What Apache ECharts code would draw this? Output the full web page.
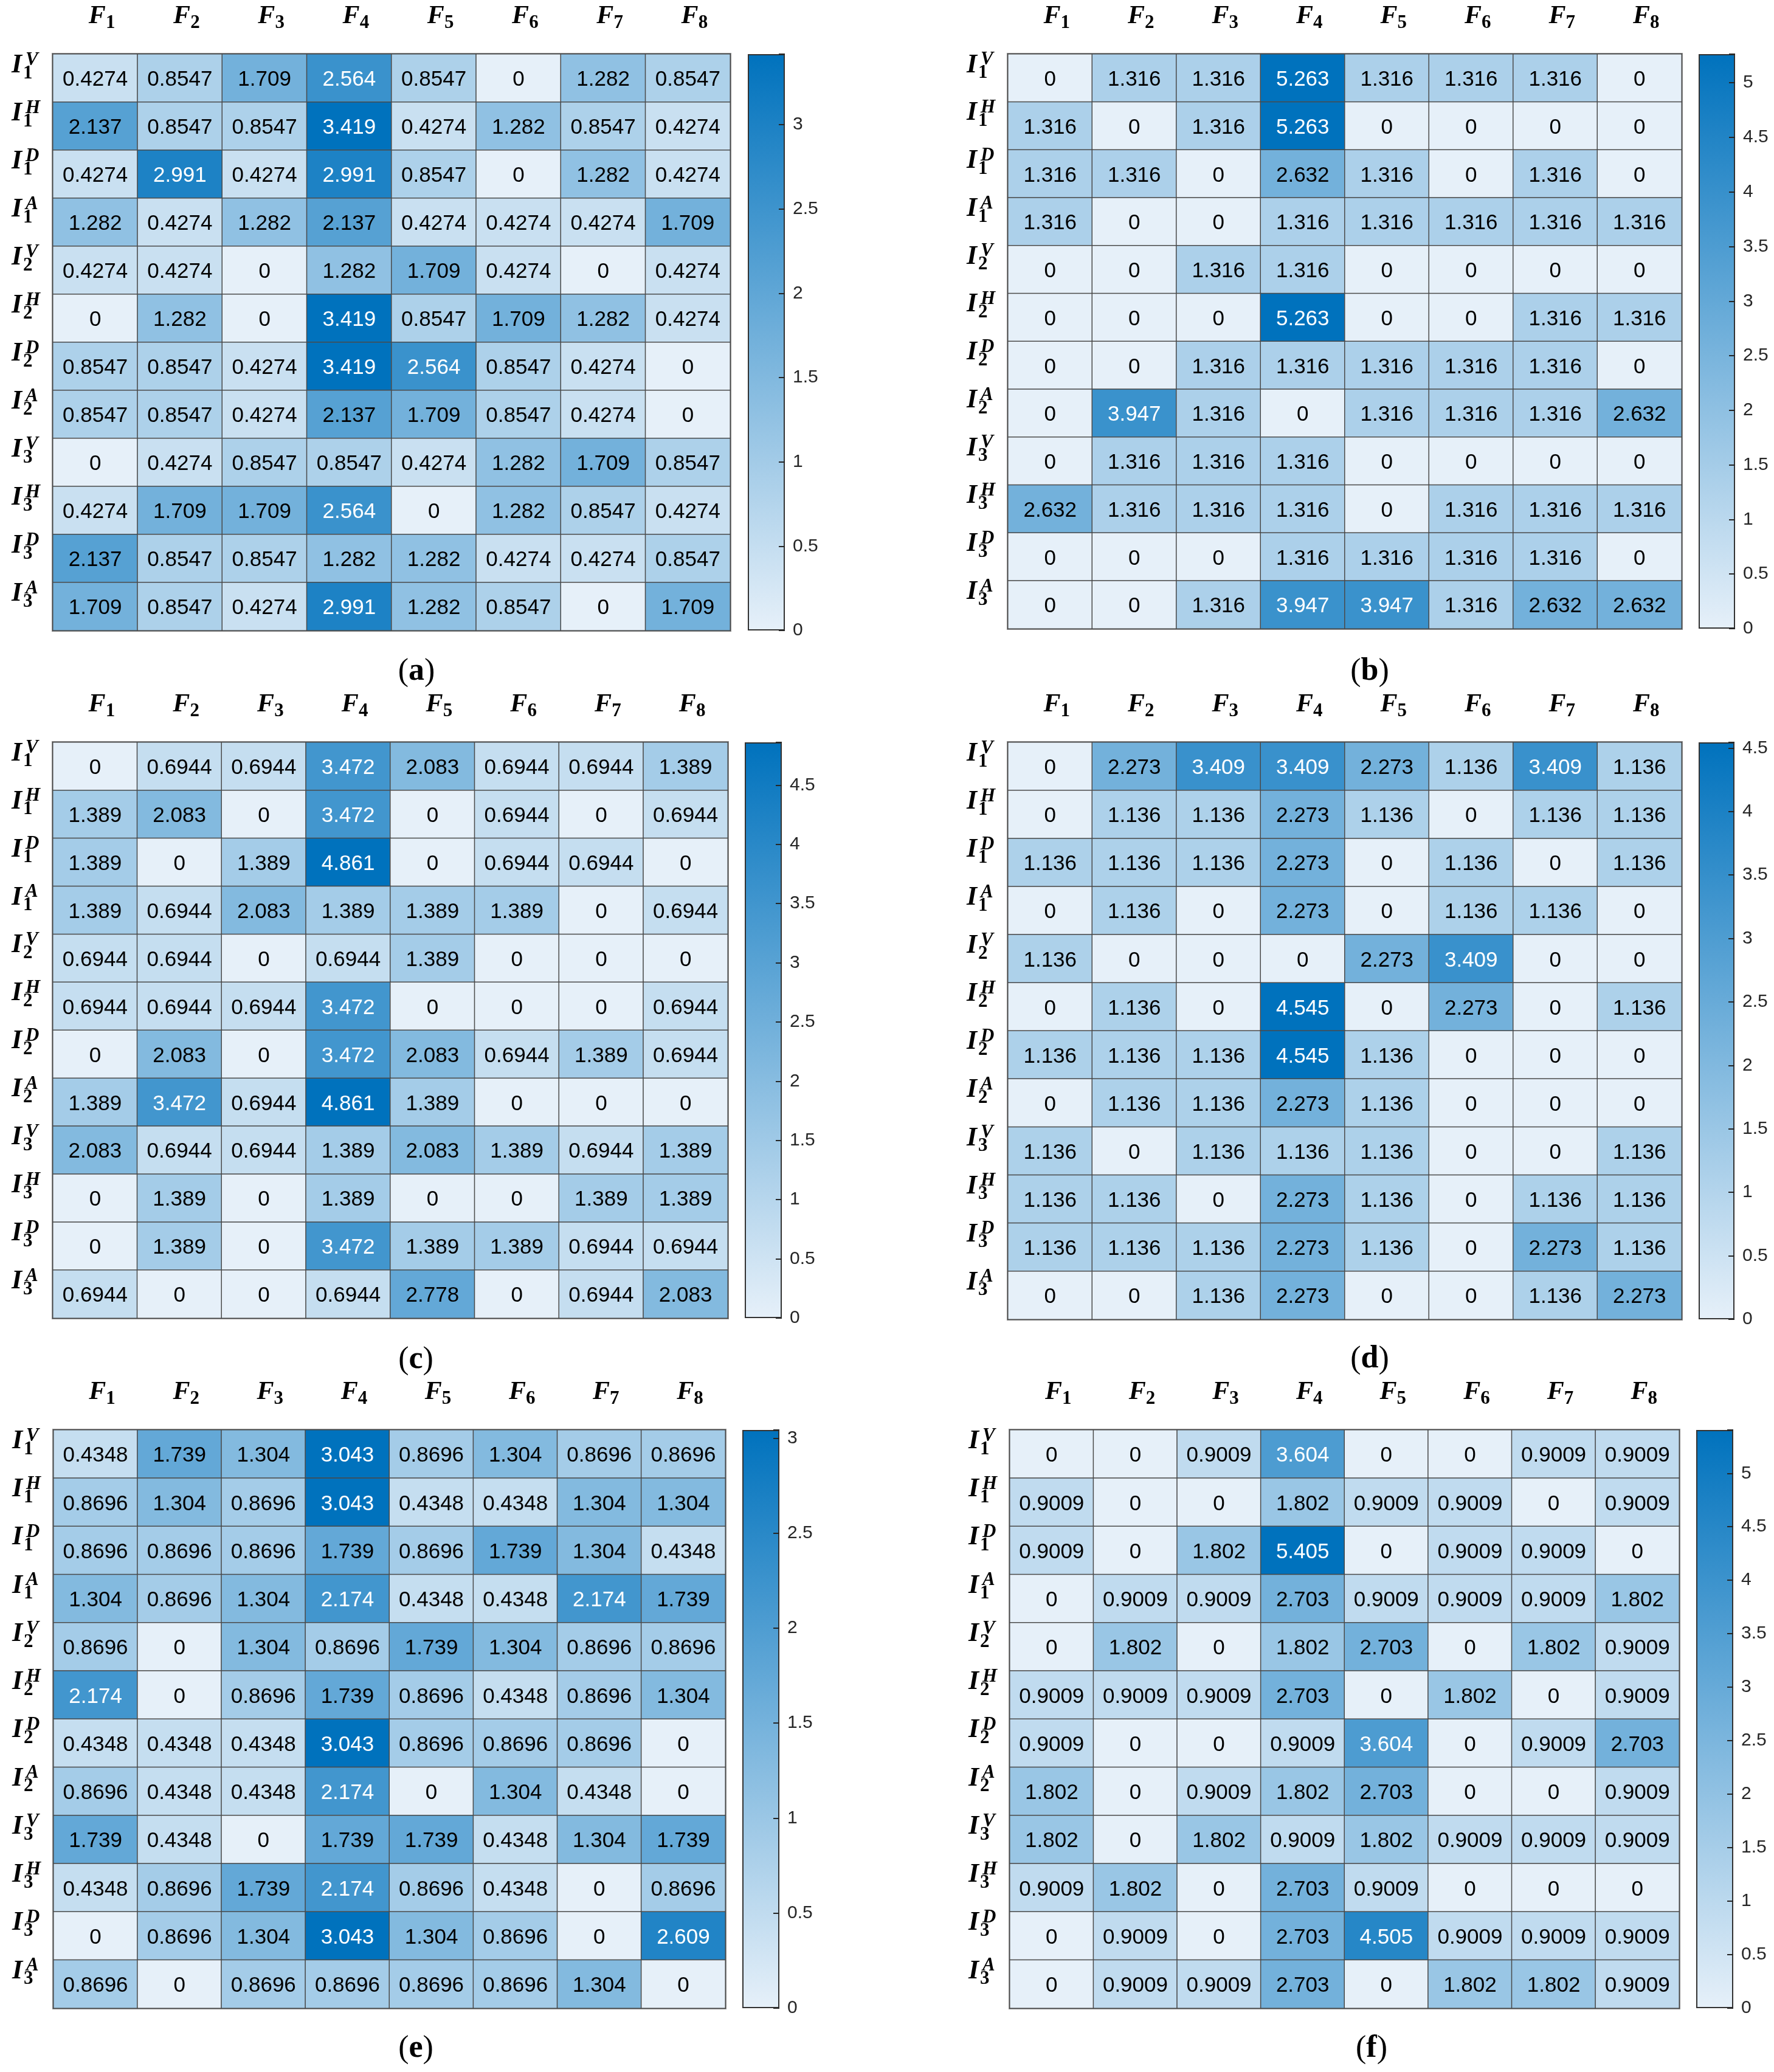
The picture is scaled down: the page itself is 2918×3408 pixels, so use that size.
<!DOCTYPE html>
<html>
<head>
<meta charset="utf-8">
<title>heatmaps a-f</title>
<script src="https://cdn.jsdelivr.net/npm/echarts@6/dist/echarts.min.js"></script>
<style>html,body{margin:0;padding:0;background:#fff;}</style>
</head>
<body>
<div id="main" style="width:2918px;height:3408px;"></div>
<script type="text/javascript">
// column and row names (F_n, I_n^X)
var colNames = ['F1', 'F2', 'F3', 'F4', 'F5', 'F6', 'F7', 'F8'];
var rowNames = ['I1V', 'I1H', 'I1D', 'I1A', 'I2V', 'I2H', 'I2D', 'I2A', 'I3V', 'I3H', 'I3D', 'I3A'];
var panelTags = ['a', 'b', 'c', 'd', 'e', 'f'];
var colorbarStep = 0.5;

var valuesA = [
    [0.4274, 0.8547, 1.709, 2.564, 0.8547, 0, 1.282, 0.8547],
    [2.137, 0.8547, 0.8547, 3.419, 0.4274, 1.282, 0.8547, 0.4274],
    [0.4274, 2.991, 0.4274, 2.991, 0.8547, 0, 1.282, 0.4274],
    [1.282, 0.4274, 1.282, 2.137, 0.4274, 0.4274, 0.4274, 1.709],
    [0.4274, 0.4274, 0, 1.282, 1.709, 0.4274, 0, 0.4274],
    [0, 1.282, 0, 3.419, 0.8547, 1.709, 1.282, 0.4274],
    [0.8547, 0.8547, 0.4274, 3.419, 2.564, 0.8547, 0.4274, 0],
    [0.8547, 0.8547, 0.4274, 2.137, 1.709, 0.8547, 0.4274, 0],
    [0, 0.4274, 0.8547, 0.8547, 0.4274, 1.282, 1.709, 0.8547],
    [0.4274, 1.709, 1.709, 2.564, 0, 1.282, 0.8547, 0.4274],
    [2.137, 0.8547, 0.8547, 1.282, 1.282, 0.4274, 0.4274, 0.8547],
    [1.709, 0.8547, 0.4274, 2.991, 1.282, 0.8547, 0, 1.709]
];
var valuesB = [
    [0, 1.316, 1.316, 5.263, 1.316, 1.316, 1.316, 0],
    [1.316, 0, 1.316, 5.263, 0, 0, 0, 0],
    [1.316, 1.316, 0, 2.632, 1.316, 0, 1.316, 0],
    [1.316, 0, 0, 1.316, 1.316, 1.316, 1.316, 1.316],
    [0, 0, 1.316, 1.316, 0, 0, 0, 0],
    [0, 0, 0, 5.263, 0, 0, 1.316, 1.316],
    [0, 0, 1.316, 1.316, 1.316, 1.316, 1.316, 0],
    [0, 3.947, 1.316, 0, 1.316, 1.316, 1.316, 2.632],
    [0, 1.316, 1.316, 1.316, 0, 0, 0, 0],
    [2.632, 1.316, 1.316, 1.316, 0, 1.316, 1.316, 1.316],
    [0, 0, 0, 1.316, 1.316, 1.316, 1.316, 0],
    [0, 0, 1.316, 3.947, 3.947, 1.316, 2.632, 2.632]
];
var valuesC = [
    [0, 0.6944, 0.6944, 3.472, 2.083, 0.6944, 0.6944, 1.389],
    [1.389, 2.083, 0, 3.472, 0, 0.6944, 0, 0.6944],
    [1.389, 0, 1.389, 4.861, 0, 0.6944, 0.6944, 0],
    [1.389, 0.6944, 2.083, 1.389, 1.389, 1.389, 0, 0.6944],
    [0.6944, 0.6944, 0, 0.6944, 1.389, 0, 0, 0],
    [0.6944, 0.6944, 0.6944, 3.472, 0, 0, 0, 0.6944],
    [0, 2.083, 0, 3.472, 2.083, 0.6944, 1.389, 0.6944],
    [1.389, 3.472, 0.6944, 4.861, 1.389, 0, 0, 0],
    [2.083, 0.6944, 0.6944, 1.389, 2.083, 1.389, 0.6944, 1.389],
    [0, 1.389, 0, 1.389, 0, 0, 1.389, 1.389],
    [0, 1.389, 0, 3.472, 1.389, 1.389, 0.6944, 0.6944],
    [0.6944, 0, 0, 0.6944, 2.778, 0, 0.6944, 2.083]
];
var valuesD = [
    [0, 2.273, 3.409, 3.409, 2.273, 1.136, 3.409, 1.136],
    [0, 1.136, 1.136, 2.273, 1.136, 0, 1.136, 1.136],
    [1.136, 1.136, 1.136, 2.273, 0, 1.136, 0, 1.136],
    [0, 1.136, 0, 2.273, 0, 1.136, 1.136, 0],
    [1.136, 0, 0, 0, 2.273, 3.409, 0, 0],
    [0, 1.136, 0, 4.545, 0, 2.273, 0, 1.136],
    [1.136, 1.136, 1.136, 4.545, 1.136, 0, 0, 0],
    [0, 1.136, 1.136, 2.273, 1.136, 0, 0, 0],
    [1.136, 0, 1.136, 1.136, 1.136, 0, 0, 1.136],
    [1.136, 1.136, 0, 2.273, 1.136, 0, 1.136, 1.136],
    [1.136, 1.136, 1.136, 2.273, 1.136, 0, 2.273, 1.136],
    [0, 0, 1.136, 2.273, 0, 0, 1.136, 2.273]
];
var valuesE = [
    [0.4348, 1.739, 1.304, 3.043, 0.8696, 1.304, 0.8696, 0.8696],
    [0.8696, 1.304, 0.8696, 3.043, 0.4348, 0.4348, 1.304, 1.304],
    [0.8696, 0.8696, 0.8696, 1.739, 0.8696, 1.739, 1.304, 0.4348],
    [1.304, 0.8696, 1.304, 2.174, 0.4348, 0.4348, 2.174, 1.739],
    [0.8696, 0, 1.304, 0.8696, 1.739, 1.304, 0.8696, 0.8696],
    [2.174, 0, 0.8696, 1.739, 0.8696, 0.4348, 0.8696, 1.304],
    [0.4348, 0.4348, 0.4348, 3.043, 0.8696, 0.8696, 0.8696, 0],
    [0.8696, 0.4348, 0.4348, 2.174, 0, 1.304, 0.4348, 0],
    [1.739, 0.4348, 0, 1.739, 1.739, 0.4348, 1.304, 1.739],
    [0.4348, 0.8696, 1.739, 2.174, 0.8696, 0.4348, 0, 0.8696],
    [0, 0.8696, 1.304, 3.043, 1.304, 0.8696, 0, 2.609],
    [0.8696, 0, 0.8696, 0.8696, 0.8696, 0.8696, 1.304, 0]
];
var valuesF = [
    [0, 0, 0.9009, 3.604, 0, 0, 0.9009, 0.9009],
    [0.9009, 0, 0, 1.802, 0.9009, 0.9009, 0, 0.9009],
    [0.9009, 0, 1.802, 5.405, 0, 0.9009, 0.9009, 0],
    [0, 0.9009, 0.9009, 2.703, 0.9009, 0.9009, 0.9009, 1.802],
    [0, 1.802, 0, 1.802, 2.703, 0, 1.802, 0.9009],
    [0.9009, 0.9009, 0.9009, 2.703, 0, 1.802, 0, 0.9009],
    [0.9009, 0, 0, 0.9009, 3.604, 0, 0.9009, 2.703],
    [1.802, 0, 0.9009, 1.802, 2.703, 0, 0, 0.9009],
    [1.802, 0, 1.802, 0.9009, 1.802, 0.9009, 0.9009, 0.9009],
    [0.9009, 1.802, 0, 2.703, 0.9009, 0, 0, 0],
    [0, 0.9009, 0, 2.703, 4.505, 0.9009, 0.9009, 0.9009],
    [0, 0.9009, 0.9009, 2.703, 0, 1.802, 1.802, 0.9009]
];
var panelValues = [valuesA, valuesB, valuesC, valuesD, valuesE, valuesF];

// page layout in pixels: heatmap box, colour bar box, (x) tag centre
var layout = [
    {left: 87,   top: 89,   width: 1114, height: 948, barLeft: 1230, barWidth: 61, tag: [685, 1105]},
    {left: 1658, top: 89,   width: 1108, height: 945, barLeft: 2794, barWidth: 60, tag: [2253, 1105]},
    {left: 87,   top: 1221, width: 1110, height: 947, barLeft: 1225, barWidth: 61, tag: [684, 2237]},
    {left: 1658, top: 1221, width: 1108, height: 949, barLeft: 2794, barWidth: 59, tag: [2253, 2236]},
    {left: 88,   top: 2352, width: 1105, height: 951, barLeft: 1221, barWidth: 61, tag: [684, 3370]},
    {left: 1661, top: 2352, width: 1101, height: 951, barLeft: 2790, barWidth: 61, tag: [2256, 3370]}
];

var lightBlue = '#e6f0f9';
var darkBlue = '#0072bd';
var numFont = 'Liberation Sans';
var mathFont = 'Liberation Serif';
var whiteTextAbove = 0.645; // share of the panel max where cell text turns white

var myChart = echarts.init(document.getElementById('main'), null, {renderer: 'canvas'});
var grid = [], xAxis = [], yAxis = [], series = [], visualMap = [], graphic = [];

// row label pieces: big I, subscript digit, superscript letter (stacked, so three axes)
function rowAxis(g, margin, align, pick, style, lift) {
    return {
        type: 'category', gridIndex: g, position: 'left', inverse: true, data: rowNames,
        axisLine: {show: false}, axisTick: {show: false}, splitLine: {show: false},
        axisLabel: {
            margin: margin, align: align, verticalAlign: 'middle',
            formatter: function (name) { return '{t|' + pick(name) + '}'; },
            rich: {t: Object.assign({color: '#000', padding: [0, 0, lift, 0]}, style)}
        }
    };
}

panelValues.forEach(function (values, k) {
    var lay = layout[k];
    var maxV = Math.max.apply(null, values.map(function (r) { return Math.max.apply(null, r); }));
    var cells = [];
    values.forEach(function (row, i) {
        row.forEach(function (v, j) { cells.push([j, i, v]); });
    });

    // heatmap grid
    var g = grid.length;
    grid.push({
        left: lay.left, top: lay.top, width: lay.width, height: lay.height,
        show: true, borderColor: '#8c8c8c', borderWidth: 4, backgroundColor: 'transparent'
    });
    var xi = xAxis.length;
    xAxis.push({
        type: 'category', gridIndex: g, position: 'top', data: colNames,
        axisLine: {show: false}, axisTick: {show: false}, splitLine: {show: false},
        axisLabel: {
            margin: 62, verticalAlign: 'middle', padding: [0, 0, 0, 22],
            formatter: function (name) { return '{f|F}{s|' + name.slice(1) + '}'; },
            rich: {
                f: {fontFamily: mathFont, fontSize: 42, fontWeight: 'bold', fontStyle: 'italic', color: '#000'},
                s: {fontFamily: mathFont, fontSize: 31, fontWeight: 'bold', color: '#000', padding: [22, 0, 0, 0]}
            }
        }
    });
    var yi = yAxis.length;
    yAxis.push(rowAxis(g, 51, 'right', function (n) { return 'I'; },
        {fontFamily: mathFont, fontSize: 44, fontWeight: 'bold', fontStyle: 'italic'}, 42));
    yAxis.push(rowAxis(g, 49, 'left', function (n) { return n.charAt(1); },
        {fontFamily: mathFont, fontSize: 31, fontWeight: 'bold'}, 16));
    yAxis.push(rowAxis(g, 45, 'left', function (n) { return n.charAt(2); },
        {fontFamily: mathFont, fontSize: 31, fontWeight: 'bold', fontStyle: 'italic'}, 60));

    var si = series.length;
    series.push({
        type: 'heatmap', xAxisIndex: xi, yAxisIndex: yi, data: cells, silent: true,
        itemStyle: {borderColor: '#4a4a4a', borderWidth: 1.5},
        label: {
            show: true, offset: [0, 3],
            formatter: function (p) {
                var v = p.value[2];
                return '{' + (v > maxV * whiteTextAbove ? 'w' : 'k') + '|' + v + '}';
            },
            rich: {
                w: {color: '#fff', fontFamily: numFont, fontSize: 35},
                k: {color: '#000', fontFamily: numFont, fontSize: 35}
            }
        }
    });
    visualMap.push({
        type: 'continuous', show: false, seriesIndex: si, dimension: 2,
        min: 0, max: maxV, inRange: {color: [lightBlue, darkBlue]}
    });

    // colour bar
    var cg = grid.length;
    grid.push({left: lay.barLeft, top: lay.top, width: lay.barWidth, height: lay.height});
    xAxis.push({type: 'category', gridIndex: cg, data: ['bar'], show: false});
    yAxis.push({
        type: 'value', gridIndex: cg, position: 'right', min: 0, max: maxV, interval: colorbarStep, z: 10,
        axisLine: {show: false}, splitLine: {show: false},
        axisTick: {show: true, inside: true, length: 10, lineStyle: {color: '#262626', width: 2}},
        axisLabel: {
            margin: 13, fontFamily: numFont, fontSize: 30, color: '#262626',
            formatter: function (v) {
                var r = Math.round(v / colorbarStep) * colorbarStep;
                return Math.abs(v - r) < 1e-6 ? String(r) : '';
            }
        }
    });
    series.push({
        type: 'bar', xAxisIndex: xAxis.length - 1, yAxisIndex: yAxis.length - 1,
        data: [maxV], barWidth: '100%', silent: true,
        itemStyle: {
            color: new echarts.graphic.LinearGradient(0, 0, 0, 1, [
                {offset: 0, color: darkBlue}, {offset: 1, color: lightBlue}
            ]),
            borderColor: '#333', borderWidth: 2
        }
    });

    // panel tag (a) ... (f)
    graphic.push({
        type: 'text', x: lay.tag[0], y: lay.tag[1],
        style: {
            text: '{p|(}{b|' + panelTags[k] + '}{p|)}',
            align: 'center', verticalAlign: 'middle',
            rich: {
                p: {fontFamily: mathFont, fontSize: 52, color: '#000'},
                b: {fontFamily: mathFont, fontSize: 52, fontWeight: 'bold', color: '#000'}
            }
        }
    });
});

var option = {
    backgroundColor: '#fff',
    animation: false,
    grid: grid,
    xAxis: xAxis,
    yAxis: yAxis,
    visualMap: visualMap,
    series: series,
    graphic: graphic
};
myChart.setOption(option);
</script>
</body>
</html>
